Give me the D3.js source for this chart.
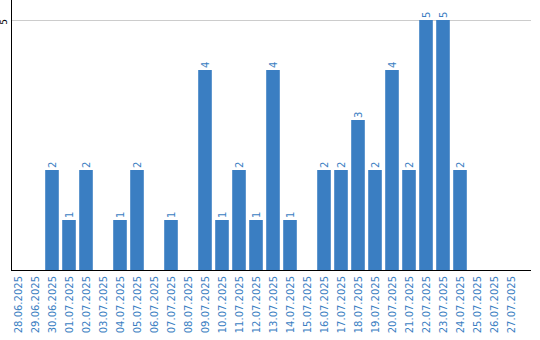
<!DOCTYPE html>
<html lang="en">
<head>
    <meta charset="UTF-8">
    <title>Chart</title>
    <style>
        body { margin: 0; background: #fff; }
        text { font-family: "DejaVu Sans", sans-serif; }
    </style>
</head>
<body>
    <svg width="540" height="340"></svg>

    <script src="https://d3js.org/d3.v7.min.js"></script>
    <script>
        var dates = ['28.06.2025', '29.06.2025', '30.06.2025', '01.07.2025', '02.07.2025',
                     '03.07.2025', '04.07.2025', '05.07.2025', '06.07.2025', '07.07.2025',
                     '08.07.2025', '09.07.2025', '10.07.2025', '11.07.2025', '12.07.2025',
                     '13.07.2025', '14.07.2025', '15.07.2025', '16.07.2025', '17.07.2025',
                     '18.07.2025', '19.07.2025', '20.07.2025', '21.07.2025', '22.07.2025',
                     '23.07.2025', '24.07.2025', '25.07.2025', '26.07.2025', '27.07.2025'];
        var counts = [0, 0, 2, 1, 2, 0, 1, 2, 0, 1,
                      0, 4, 1, 2, 1, 4, 1, 0, 2, 2,
                      3, 2, 4, 2, 5, 5, 2, 0, 0, 0];
        var yTicks = [5];

        var svg = d3.select('svg'),
            blue = '#3a7ec2',
            left = 11, right = 531,
            top = 10, bottom = 270;

        var x = d3.scaleBand()
            .domain(dates)
            .range([9.5, 519.5])
            .paddingInner(0.2)
            .paddingOuter(0.1);

        var y = d3.scaleLinear()
            .domain([0, 5])
            .range([bottom, 20]);

        // grid line
        svg.selectAll('.grid')
            .data(yTicks)
            .enter().append('line')
            .attr('x1', left).attr('x2', right)
            .attr('y1', function(d) { return Math.round(y(d)) + 0.5; })
            .attr('y2', function(d) { return Math.round(y(d)) + 0.5; })
            .attr('stroke', '#cccccc');

        // bars
        var data = dates.map(function(d, i) { return {date: d, v: counts[i]}; });

        svg.selectAll('.bar')
            .data(data.filter(function(d) { return d.v > 0; }))
            .enter().append('rect')
            .attr('x', function(d) { return x(d.date); })
            .attr('y', function(d) { return y(d.v); })
            .attr('width', x.bandwidth())
            .attr('height', function(d) { return bottom - y(d.v); })
            .attr('fill', blue);

        // value labels
        svg.selectAll('.val')
            .data(data.filter(function(d) { return d.v > 0; }))
            .enter().append('text')
            .attr('transform', function(d) {
                return 'translate(' + (x(d.date) + x.bandwidth() / 2 + 3.5) + ',' + (y(d.v) - 2) + ') rotate(-90)';
            })
            .attr('font-size', 10)
            .attr('fill', blue)
            .text(function(d) { return d.v; });

        // y axis
        svg.append('line')
            .attr('x1', left + 0.5).attr('x2', left + 0.5)
            .attr('y1', top).attr('y2', bottom)
            .attr('stroke', '#000');

        svg.selectAll('.ytick')
            .data(yTicks)
            .enter().append('text')
            .attr('transform', function(d) { return 'translate(7,' + (y(d) + 2) + ') rotate(-90)'; })
            .attr('text-anchor', 'middle')
            .attr('font-size', 9)
            .attr('fill', '#000')
            .text(function(d) { return d; });

        // x axis
        svg.append('line')
            .attr('x1', left).attr('x2', right)
            .attr('y1', bottom + 0.5).attr('y2', bottom + 0.5)
            .attr('stroke', '#000');

        svg.selectAll('.xlab')
            .data(dates)
            .enter().append('text')
            .attr('transform', function(d) {
                return 'translate(' + (x(d) + x.bandwidth() / 2 + 3.5) + ',' + (bottom + 6) + ') rotate(-90)';
            })
            .attr('text-anchor', 'end')
            .attr('font-size', 10)
            .attr('fill', blue)
            .text(function(d) { return d; });
    </script>
</body>
</html>
